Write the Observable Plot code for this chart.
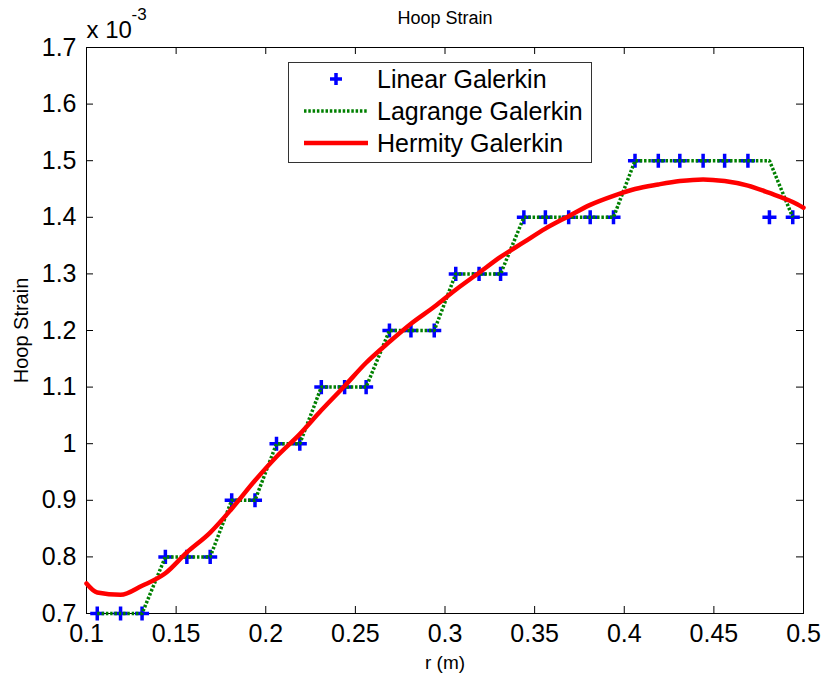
<!DOCTYPE html>
<html>
<head>
<meta charset="utf-8">
<script src="https://cdn.jsdelivr.net/npm/d3@7"></script>
<script src="https://cdn.jsdelivr.net/npm/@observablehq/plot@0.6"></script>
<style>
  html, body { margin: 0; padding: 0; background: #fff; }
  #wrap { position: relative; width: 822px; height: 675px; font-family: "Liberation Sans", Arial, sans-serif; }
  #legend { position: absolute; left: 288px; top: 62px; width: 302px; height: 99px; border: 1px solid #333; background: #fff; }
  .row { position: absolute; left: 0; height: 32px; display: flex; align-items: center; font-size: 25px; color: #000; }
  .row svg { width: 88px; height: 32px; display: block; }
</style>
</head>
<body>
<div id="wrap"></div>
<script>
// Values in units of 1e-3
const rNodes = [0.106, 0.119, 0.131, 0.144, 0.156, 0.169, 0.181, 0.194, 0.206, 0.219, 0.231, 0.244, 0.256, 0.269, 0.281, 0.294,
                0.306, 0.319, 0.331, 0.344, 0.356, 0.369, 0.381, 0.394, 0.406, 0.419, 0.431, 0.444, 0.456, 0.469, 0.481, 0.494];
const linearVals = [0.7, 0.7, 0.7, 0.8, 0.8, 0.8, 0.9, 0.9, 1.0, 1.0, 1.1, 1.1, 1.1, 1.2, 1.2, 1.2,
                    1.3, 1.3, 1.3, 1.4, 1.4, 1.4, 1.4, 1.4, 1.5, 1.5, 1.5, 1.5, 1.5, 1.5, 1.4, 1.4];
const lagrangeVals = [0.7, 0.7, 0.7, 0.8, 0.8, 0.8, 0.9, 0.9, 1.0, 1.0, 1.1, 1.1, 1.1, 1.2, 1.2, 1.2,
                      1.3, 1.3, 1.3, 1.4, 1.4, 1.4, 1.4, 1.4, 1.5, 1.5, 1.5, 1.5, 1.5, 1.5, 1.5, 1.4];
const rHermite = [0.1, 0.106, 0.119, 0.131, 0.144, 0.156, 0.169, 0.181, 0.194, 0.206, 0.219, 0.231, 0.244, 0.256, 0.269, 0.281, 0.294,
                  0.306, 0.319, 0.331, 0.344, 0.356, 0.369, 0.381, 0.394, 0.406, 0.419, 0.431, 0.444, 0.456, 0.469, 0.481, 0.494, 0.5];
const hermiteVals = [0.753, 0.737, 0.733, 0.749, 0.771, 0.808, 0.843, 0.885, 0.935, 0.977, 1.017, 1.059, 1.102, 1.143, 1.180, 1.212, 1.242,
                     1.272, 1.302, 1.330, 1.356, 1.380, 1.402, 1.422, 1.438, 1.450, 1.458, 1.464, 1.467, 1.464, 1.456, 1.443, 1.427, 1.417];
const xTicks = [0.1, 0.15, 0.2, 0.25, 0.3, 0.35, 0.4, 0.45, 0.5];
const yTicks = [0.7, 0.8, 0.9, 1, 1.1, 1.2, 1.3, 1.4, 1.5, 1.6, 1.7];
const seriesNames = ["Linear Galerkin", "Lagrange Galerkin", "Hermity Galerkin"];

const linear = rNodes.map((r, i) => ({r, v: linearVals[i]}));
const lagrange = rNodes.map((r, i) => ({r, v: lagrangeVals[i]}));
const hermite = rHermite.map((r, i) => ({r, v: hermiteVals[i]}));

const W = 822, H = 675, mL = 86, mR = 19, mT = 47, mB = 62;
const innerW = W - mL - mR, innerH = H - mT - mB;
const tick = 7;
const font = '"Liberation Sans", Arial, sans-serif';

const chart = Plot.plot({
  width: W, height: H,
  marginLeft: mL, marginRight: mR, marginTop: mT, marginBottom: mB,
  style: {fontFamily: font, fontSize: "25px", color: "#000", background: "#fff", overflow: "visible"},
  x: {domain: [0.1, 0.5]},
  y: {domain: [0.7, 1.7]},
  marks: [
    Plot.axisX({ticks: xTicks, tickSize: 0, tickPadding: 11, tickFormat: d => String(d), fontSize: 25, label: null}),
    Plot.axisY({ticks: yTicks, tickSize: 0, tickPadding: 10, tickFormat: d => String(d), fontSize: 25, label: null}),
    Plot.ruleX(xTicks, {x: d => d, insetTop: innerH - tick, stroke: "#000"}),
    Plot.ruleX(xTicks, {x: d => d, insetBottom: innerH - tick, stroke: "#000"}),
    Plot.ruleY(yTicks, {y: d => d, insetRight: innerW - tick, stroke: "#000"}),
    Plot.ruleY(yTicks, {y: d => d, insetLeft: innerW - tick, stroke: "#000"}),
    Plot.frame({stroke: "#000", strokeWidth: 1}),
    Plot.dot(linear, {x: "r", y: "v", symbol: "plus", r: 4.6, stroke: "#0000ff", strokeWidth: 3.5}),
    Plot.line(lagrange, {x: "r", y: "v", stroke: "#008000", strokeWidth: 3.5, strokeDasharray: "2.5,1.8", strokeLinecap: "butt", strokeLinejoin: "miter"}),
    Plot.line(hermite, {x: "r", y: "v", stroke: "#ff0000", strokeWidth: 4.5, curve: "monotone-x"}),
    Plot.text(["Hoop Strain"], {frameAnchor: "top", textAnchor: "middle", lineAnchor: "middle", dy: -29, fontSize: 18, fill: "#000"}),
    Plot.text(["r (m)"], {frameAnchor: "bottom", textAnchor: "middle", lineAnchor: "middle", dy: 49, fontSize: 19, fill: "#000"}),
    Plot.text(["Hoop Strain"], {frameAnchor: "left", textAnchor: "middle", lineAnchor: "middle", dx: -65, rotate: -90, fontSize: 20, fill: "#000"}),
    Plot.text(["x 10"], {frameAnchor: "top-left", textAnchor: "start", lineAnchor: "middle", dx: 0, dy: -17, fontSize: 24, fill: "#000"}),
    Plot.text(["-3"], {frameAnchor: "top-left", textAnchor: "start", lineAnchor: "middle", dx: 45, dy: -33, fontSize: 17, fill: "#000"})
  ]
});

const wrap = document.getElementById("wrap");
wrap.appendChild(chart);

// Legend
const legend = document.createElement("div");
legend.id = "legend";
const rowTops = [0, 32, 64];
seriesNames.forEach((name, i) => {
  const row = document.createElement("div");
  row.className = "row";
  row.style.top = rowTops[i] + "px";
  let sw;
  if (i === 0) {
    sw = `<svg><path d="M47,10 V22 M41,16 H53" stroke="#0000ff" stroke-width="3.5"/></svg>`;
  } else if (i === 1) {
    sw = `<svg><line x1="15" y1="16" x2="79" y2="16" stroke="#008000" stroke-width="3.5" stroke-dasharray="2.5,1.8"/></svg>`;
  } else {
    sw = `<svg><line x1="15" y1="16" x2="79" y2="16" stroke="#ff0000" stroke-width="4.5"/></svg>`;
  }
  row.innerHTML = sw + `<span>${name}</span>`;
  legend.appendChild(row);
});
wrap.appendChild(legend);
</script>
</body>
</html>
